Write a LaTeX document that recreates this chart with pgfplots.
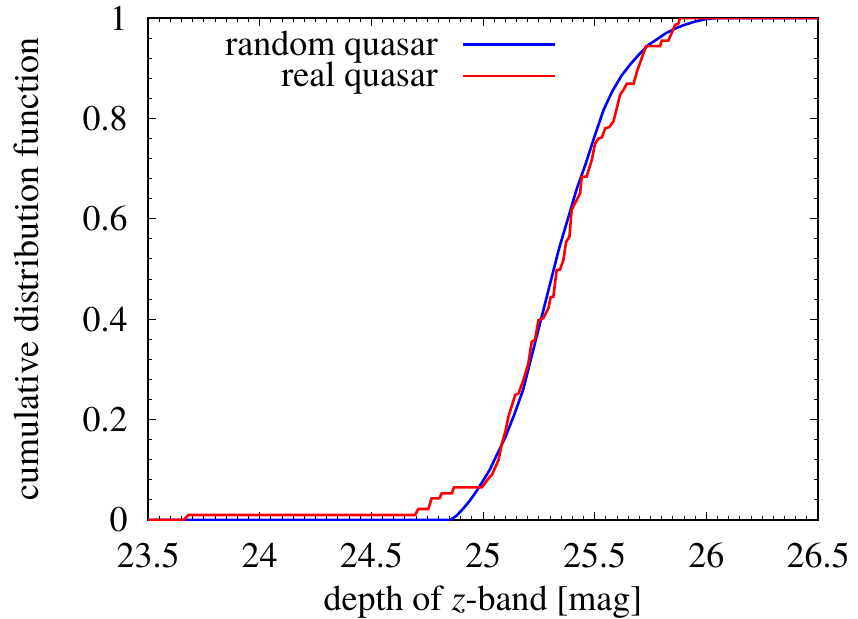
\documentclass[border=0pt]{standalone}
\usepackage{pgfplots}
\pgfplotsset{compat=1.18}
\usepackage{fontspec}
\setmainfont{TeX Gyre Termes}
\begin{document}
\begin{tikzpicture}
\begin{axis}[
  name=ax,
  scale only axis, width=335pt, height=251pt,
  xmin=23.5, xmax=26.5, ymin=0, ymax=1,
  xtick={23.5,24,...,26.5}, ytick={0,0.2,...,1},
  minor x tick num=9, minor y tick num=4,
  tick align=inside, tick pos=both,
  major tick length=4pt, minor tick length=2.2pt,
  every tick/.style={black, line width=0.5pt},
  axis line style={line width=0.8pt},
  /pgf/number format/assume math mode=true,
  /pgf/number format/fixed,
  font=\fontsize{18}{21}\selectfont,
  ticklabel style={font=\fontsize{18}{21}\selectfont, inner sep=0pt},
  xticklabel style={anchor=center, yshift=-17.5pt},
  yticklabel style={anchor=east, xshift=-10pt},
  xlabel={depth of \textit{z}-band [mag]},
  ylabel={cumulative distribution function},
  xlabel style={at={(axis description cs:0.5,0)}, anchor=center, yshift=-41pt},
  ylabel style={at={(axis description cs:0,0.5)}, anchor=center, yshift=61pt},
  legend cell align=right, legend plot pos=right,
  legend style={draw=none, fill=none, inner sep=0pt, at={(rel axis cs:0.6104,0.975)}, anchor=north east,
    font=\fontsize{18}{21}\selectfont, row sep=1.8pt, column sep=12pt, nodes={inner sep=0pt}},
  legend image code/.code={\draw[#1] (0pt,0pt) -- (46pt,0pt);},
]
\addplot[blue, line width=1.3pt] coordinates {
(23.5,0) (24.852,0) (24.88,0.008) (24.91,0.022) (24.94,0.038) (24.97,0.057)
(25.00,0.078) (25.03,0.10) (25.06,0.128) (25.10,0.165) (25.14,0.21) (25.18,0.26)
(25.22,0.33) (25.26,0.40) (25.30,0.47) (25.34,0.54) (25.38,0.60) (25.42,0.66)
(25.46,0.71) (25.50,0.765) (25.54,0.817) (25.58,0.855) (25.62,0.885) (25.66,0.908)
(25.70,0.928) (25.74,0.946) (25.78,0.958) (25.82,0.970) (25.86,0.979) (25.90,0.986)
(25.95,0.993) (26.00,0.998) (26.05,1) (26.5,1)
};
\addlegendentry{random quasar}
\addplot[red, line width=1.3pt] coordinates {
(23.5,0) (23.66,0) (23.68,0.010) (24.696,0.010) (24.71,0.022) (24.755,0.022)
(24.77,0.043) (24.805,0.043) (24.815,0.053) (24.86,0.053) (24.87,0.065) (24.995,0.065)
(25.03,0.086) (25.04,0.09) (25.07,0.12) (25.085,0.153) (25.10,0.176) (25.114,0.206)
(25.144,0.249) (25.159,0.252) (25.181,0.279) (25.203,0.312) (25.218,0.355) (25.233,0.359)
(25.248,0.398) (25.270,0.402) (25.293,0.422) (25.303,0.444) (25.315,0.445) (25.330,0.498)
(25.345,0.499) (25.360,0.518) (25.372,0.554) (25.387,0.564) (25.397,0.618) (25.419,0.637)
(25.435,0.651) (25.442,0.684) (25.464,0.684) (25.487,0.717) (25.502,0.750) (25.517,0.760)
(25.532,0.762) (25.547,0.780) (25.566,0.783) (25.584,0.794) (25.614,0.847) (25.629,0.857)
(25.644,0.869) (25.674,0.869) (25.689,0.893) (25.730,0.944) (25.793,0.944) (25.800,0.955)
(25.830,0.955) (25.860,0.986) (25.875,0.989) (25.882,1) (26.5,1)
};
\addlegendentry{real quasar}
\end{axis}
\pgfresetboundingbox
\path (ax.south west) ++(-74pt,-49pt) (ax.north east) ++(20pt,9pt);
\end{tikzpicture}
\end{document}
